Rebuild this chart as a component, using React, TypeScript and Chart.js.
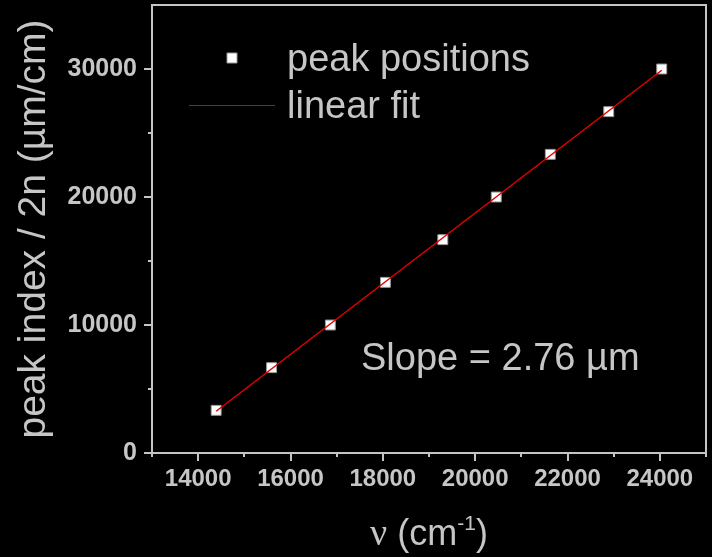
import { useEffect, useRef } from "react";
import { Chart, registerables } from "chart.js";

Chart.register(...registerables);

// Measured peak positions: wavenumber (cm^-1) vs. peak index / 2n (µm/cm)
const WAVENUMBER = [14390, 15590, 16863, 18056, 19299, 20457, 21627, 22893, 24041];
const PEAK_INDEX_PER_2N = [3333, 6667, 10000, 13333, 16667, 20000, 23333, 26667, 30000];

const X_TICKS = [14000, 16000, 18000, 20000, 22000, 24000];
const X_MINOR = [13000, 15000, 17000, 19000, 21000, 23000, 25000];
const Y_TICKS = [0, 10000, 20000, 30000];
const Y_MINOR = [5000, 15000, 25000];

const SLOPE = 2.76; // µm
const LEGEND_LABELS = ["peak positions", "linear fit"];
const SLOPE_TEXT = `Slope = ${SLOPE.toFixed(2)} \u00b5m`;
const Y_TITLE = "peak index / 2n (\u00b5m/cm)";

const BG = "#000000";
const TEXT = "#c6c6c6";
const AXIS = "#c4c4c4";
const FIT_RED = "#e40000";
const SANS = "'Liberation Sans', Arial, Helvetica, sans-serif";
const SERIF = "'Liberation Serif', 'Times New Roman', serif";

// Straight line with the stated slope through the centroid of the points
function fitLine() {
  const n = WAVENUMBER.length;
  const mx = WAVENUMBER.reduce((a, b) => a + b, 0) / n;
  const my = PEAK_INDEX_PER_2N.reduce((a, b) => a + b, 0) / n;
  const b = my - SLOPE * mx;
  const x0 = Math.min(...WAVENUMBER);
  const x1 = Math.max(...WAVENUMBER);
  return [
    { x: x0, y: SLOPE * x0 + b },
    { x: x1, y: SLOPE * x1 + b },
  ];
}

function drawSquare(ctx: CanvasRenderingContext2D, x: number, y: number, side: number) {
  ctx.save();
  ctx.fillStyle = "#ffffff";
  ctx.strokeStyle = "#9a9a9a";
  ctx.lineWidth = 1;
  ctx.beginPath();
  ctx.rect(x - side / 2, y - side / 2, side, side);
  ctx.fill();
  ctx.stroke();
  ctx.restore();
}

const decorations = {
  id: "decorations",
  beforeDraw(chart: any) {
    const { ctx, width, height } = chart;
    ctx.save();
    ctx.fillStyle = BG;
    ctx.fillRect(0, 0, width, height);
    ctx.restore();
  },
  afterDraw(chart: any) {
    const { ctx, chartArea } = chart;
    const xs = chart.scales.x;
    const ys = chart.scales.y;
    ctx.save();

    // frame: top and right edges
    ctx.strokeStyle = AXIS;
    ctx.lineWidth = 2;
    ctx.beginPath();
    ctx.moveTo(chartArea.left, chartArea.top);
    ctx.lineTo(chartArea.right, chartArea.top);
    ctx.lineTo(chartArea.right, chartArea.bottom);
    ctx.stroke();

    // minor ticks
    ctx.lineWidth = 2;
    ctx.beginPath();
    for (const v of X_MINOR) {
      const px = Math.round(xs.getPixelForValue(v));
      ctx.moveTo(px, chartArea.bottom);
      ctx.lineTo(px, chartArea.bottom + 4);
    }
    for (const v of Y_MINOR) {
      const py = Math.round(ys.getPixelForValue(v));
      ctx.moveTo(chartArea.left, py);
      ctx.lineTo(chartArea.left - 4, py);
    }
    ctx.stroke();

    // legend
    drawSquare(ctx, 232, 58, 10);
    ctx.strokeStyle = "#e00000";
    ctx.lineWidth = 1;
    ctx.beginPath();
    ctx.moveTo(189, 105.5);
    ctx.lineTo(275, 105.5);
    ctx.stroke();

    ctx.fillStyle = TEXT;
    ctx.textAlign = "left";
    ctx.textBaseline = "alphabetic";
    ctx.font = `38px ${SANS}`;
    ctx.fillText(LEGEND_LABELS[0], 287, 71);
    ctx.fillText(LEGEND_LABELS[1], 287, 118);

    // slope annotation
    ctx.fillText(SLOPE_TEXT, 361, 370);

    // x-axis title: ν (cm^-1)
    const base = 545;
    const parts = [
      { t: "\u03bd", f: `38px ${SERIF}`, dy: 0 },
      { t: " (cm", f: `36px ${SANS}`, dy: 0 },
      { t: "-1", f: `21px ${SANS}`, dy: -15 },
      { t: ")", f: `36px ${SANS}`, dy: 0 },
    ];
    let total = 0;
    for (const p of parts) {
      ctx.font = p.f;
      total += ctx.measureText(p.t).width;
    }
    let cx = (chartArea.left + chartArea.right) / 2 - total / 2;
    for (const p of parts) {
      ctx.font = p.f;
      ctx.fillText(p.t, cx, base + p.dy);
      cx += ctx.measureText(p.t).width;
    }
    ctx.restore();
  },
};

export default function App() {
  const canvasRef = useRef<HTMLCanvasElement | null>(null);

  useEffect(() => {
    const canvas = canvasRef.current;
    if (!canvas) return;

    const points = WAVENUMBER.map((x, i) => ({ x, y: PEAK_INDEX_PER_2N[i] }));

    const chart = new Chart(canvas, {
      type: "scatter",
      data: {
        datasets: [
          {
            label: LEGEND_LABELS[1],
            data: fitLine(),
            showLine: true,
            borderColor: FIT_RED,
            borderWidth: 1.5,
            pointRadius: 0,
            order: 0,
          } as any,
          {
            label: LEGEND_LABELS[0],
            data: points,
            pointStyle: "rect",
            pointRadius: 7,
            pointHoverRadius: 7,
            backgroundColor: "#ffffff",
            borderColor: "#9a9a9a",
            borderWidth: 1,
            order: 1,
          },
        ],
      },
      options: {
        animation: false,
        responsive: false,
        maintainAspectRatio: false,
        devicePixelRatio: 1,
        layout: { autoPadding: false, padding: { top: 5, right: 6, left: 0, bottom: 0 } },
        plugins: {
          legend: { display: false },
          tooltip: { enabled: false },
        },
        scales: {
          x: {
            type: "linear",
            min: 13000,
            max: 25000,
            afterBuildTicks: (s: any) => {
              s.ticks = X_TICKS.map((value) => ({ value }));
            },
            afterFit: (s: any) => {
              s.height = 104;
              s.paddingLeft = 0;
              s.paddingRight = 0;
            },
            grid: {
              display: true,
              drawOnChartArea: false,
              drawTicks: true,
              tickLength: 8,
              color: AXIS,
              lineWidth: 2,
            },
            border: { display: true, color: AXIS, width: 2 },
            ticks: {
              color: TEXT,
              padding: 4,
              autoSkip: false,
              maxRotation: 0,
              font: { family: SANS, size: 24, weight: "bold" },
              callback: (v: any) => String(v),
            },
          },
          y: {
            type: "linear",
            min: 0,
            max: 35000,
            afterBuildTicks: (s: any) => {
              s.ticks = Y_TICKS.map((value) => ({ value }));
            },
            afterFit: (s: any) => {
              s.width = 152;
              s.paddingTop = 0;
              s.paddingBottom = 0;
            },
            grid: {
              display: true,
              drawOnChartArea: false,
              drawTicks: true,
              tickLength: 8,
              color: AXIS,
              lineWidth: 2,
            },
            border: { display: true, color: AXIS, width: 2 },
            ticks: {
              color: TEXT,
              padding: 7,
              autoSkip: false,
              font: { family: SANS, size: 25, weight: "bold" },
              callback: (v: any) => String(v),
            },
            title: {
              display: true,
              text: Y_TITLE,
              color: TEXT,
              padding: { top: 11, bottom: 0 },
              font: { family: SANS, size: 39, weight: "normal" },
            },
          },
        },
      },
      plugins: [decorations],
    });

    return () => chart.destroy();
  }, []);

  return (
    <div
      style={{
        position: "fixed",
        left: 0,
        top: 0,
        width: 712,
        height: 557,
        background: BG,
      }}
    >
      <canvas ref={canvasRef} width={712} height={557} style={{ display: "block" }} />
    </div>
  );
}
